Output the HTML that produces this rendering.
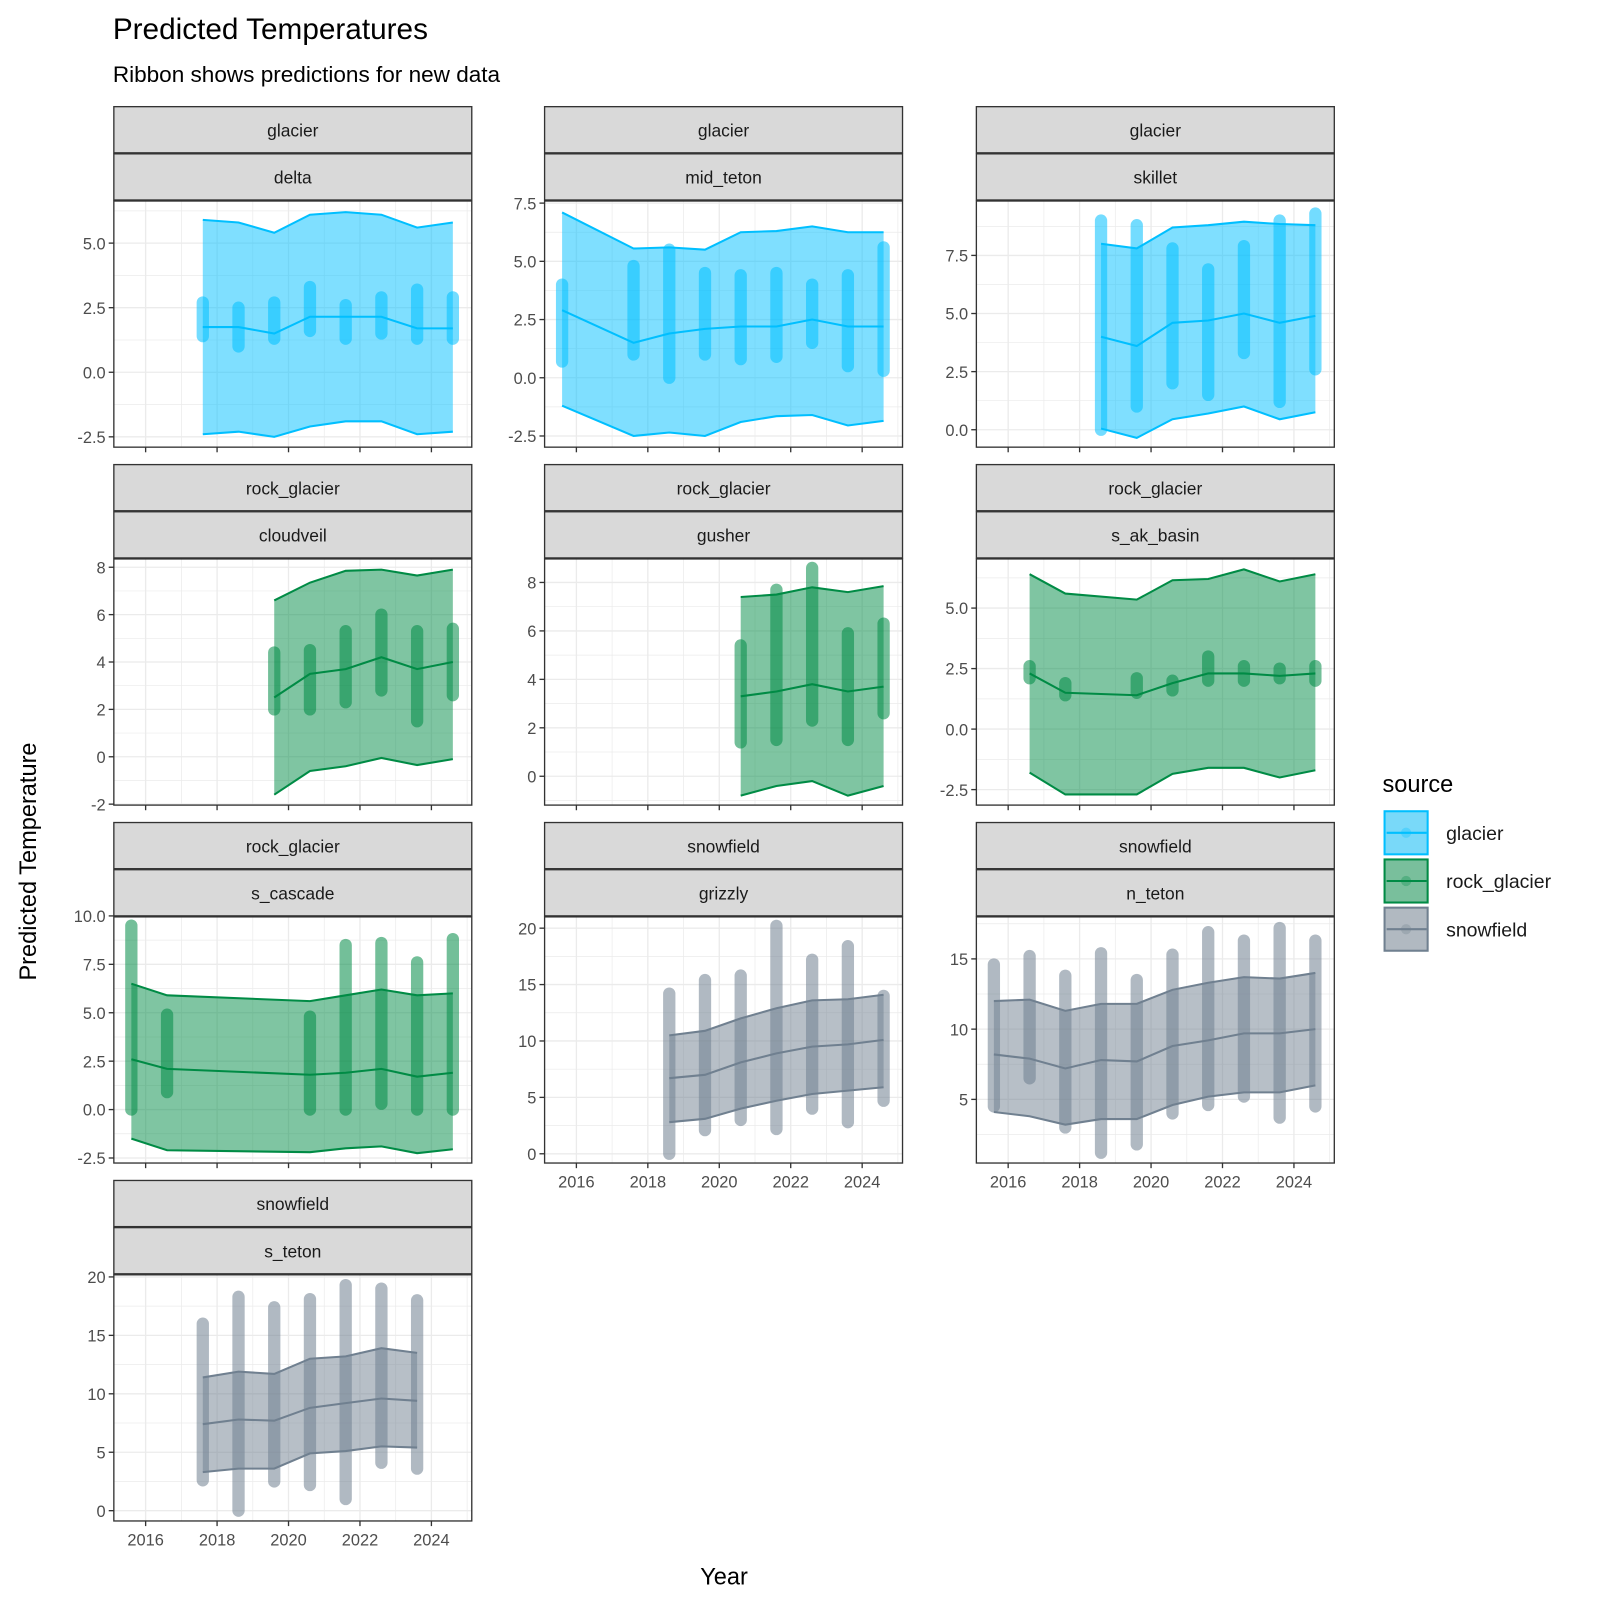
<!DOCTYPE html>
<html><head><meta charset="utf-8"><style>
body{margin:0;background:#fff;}
svg text{font-family:"Liberation Sans",Arial,sans-serif;}
</style></head><body>
<svg width="1600" height="1600" viewBox="0 0 1600 1600" xmlns="http://www.w3.org/2000/svg">
<rect width="1600" height="1600" fill="#fff"/>
<g id="chart" transform="scale(1.0256)">
<text x="110" y="38" font-size="29" fill="#000">Predicted Temperatures</text>
<text x="110" y="80" font-size="22" fill="#000">Ribbon shows predictions for new data</text>
<text x="706" y="1545" font-size="23" text-anchor="middle" fill="#000">Year</text>
<text transform="translate(35,840) rotate(-90)" font-size="23" text-anchor="middle" fill="#000">Predicted Temperature</text>
<g id="legend"></g>
</g>
</svg>
<script>
const sources = ["glacier","rock_glacier","snowfield"];
const lineColors = ["#00BFFF","#008B45","#708090"];
const fillColors = ["#00BFFF","#008B45","#708090"];
const facetNames = ["delta","mid_teton","skillet","cloudveil","gusher","s_ak_basin","s_cascade","grizzly","n_teton","s_teton"];
const facetSource = [0,0,0,1,1,1,1,2,2,2];
const facetYears = [
 [2017.6,2018.6,2019.6,2020.6,2021.6,2022.6,2023.6,2024.6],
 [2015.6,2017.6,2018.6,2019.6,2020.6,2021.6,2022.6,2023.6,2024.6],
 [2018.6,2019.6,2020.6,2021.6,2022.6,2023.6,2024.6],
 [2019.6,2020.6,2021.6,2022.6,2023.6,2024.6],
 [2020.6,2021.6,2022.6,2023.6,2024.6],
 [2016.6,2017.6,2019.6,2020.6,2021.6,2022.6,2023.6,2024.6],
 [2015.6,2016.6,2020.6,2021.6,2022.6,2023.6,2024.6],
 [2018.6,2019.6,2020.6,2021.6,2022.6,2023.6,2024.6],
 [2015.6,2016.6,2017.6,2018.6,2019.6,2020.6,2021.6,2022.6,2023.6,2024.6],
 [2017.6,2018.6,2019.6,2020.6,2021.6,2022.6,2023.6]
];
const facetUpper = [
 [5.9,5.8,5.4,6.1,6.2,6.1,5.6,5.8],
 [7.1,5.55,5.6,5.5,6.25,6.3,6.5,6.25,6.25],
 [8.0,7.8,8.7,8.8,8.95,8.85,8.8],
 [6.6,7.35,7.85,7.9,7.65,7.9],
 [7.4,7.5,7.8,7.6,7.85],
 [6.4,5.6,5.35,6.15,6.2,6.6,6.1,6.4],
 [6.5,5.9,5.6,5.9,6.2,5.9,6.0],
 [10.5,10.9,12.0,12.9,13.6,13.7,14.1],
 [12.0,12.1,11.3,11.8,11.8,12.8,13.3,13.7,13.6,14.0],
 [11.4,11.9,11.7,13.0,13.2,13.9,13.5]
];
const facetLower = [
 [-2.4,-2.3,-2.5,-2.1,-1.9,-1.9,-2.4,-2.3],
 [-1.2,-2.5,-2.35,-2.5,-1.9,-1.65,-1.6,-2.05,-1.85],
 [0.05,-0.35,0.45,0.7,1.0,0.45,0.75],
 [-1.6,-0.6,-0.4,-0.05,-0.35,-0.1],
 [-0.8,-0.4,-0.2,-0.8,-0.4],
 [-1.8,-2.7,-2.7,-1.85,-1.6,-1.6,-2.0,-1.7],
 [-1.5,-2.1,-2.2,-2.0,-1.9,-2.25,-2.05],
 [2.8,3.1,4.0,4.7,5.3,5.6,5.9],
 [4.1,3.8,3.2,3.6,3.6,4.6,5.2,5.5,5.5,6.0],
 [3.3,3.6,3.6,4.9,5.1,5.5,5.4]
];
const facetMean = [
 [1.75,1.75,1.5,2.15,2.15,2.15,1.7,1.7],
 [2.9,1.5,1.9,2.1,2.2,2.2,2.5,2.2,2.2],
 [4.0,3.6,4.6,4.7,5.0,4.6,4.9],
 [2.5,3.5,3.7,4.2,3.7,4.0],
 [3.3,3.5,3.8,3.5,3.7],
 [2.3,1.5,1.4,1.9,2.3,2.3,2.2,2.3],
 [2.6,2.1,1.8,1.9,2.1,1.7,1.9],
 [6.7,7.0,8.1,8.9,9.5,9.7,10.1],
 [8.2,7.9,7.2,7.8,7.7,8.8,9.2,9.7,9.7,10.0],
 [7.4,7.8,7.7,8.8,9.2,9.6,9.4]
];
const facetPtMin = [
 [1.4,1.0,1.3,1.6,1.3,1.5,1.3,1.3],
 [0.7,1.0,0.0,1.0,0.8,0.9,1.5,0.5,0.3],
 [0,1,2,1.5,3.3,1.2,2.6],
 [2.0,2.0,2.3,2.8,1.5,2.6],
 [1.4,1.5,2.3,1.5,2.6],
 [2.1,1.4,1.5,1.6,2.0,2.0,2.1,2.0],
 [0,0.9,0,0,0.3,0,0],
 [0,2.1,3.0,2.2,4.0,2.8,4.7],
 [4.5,6.5,3.0,1.2,1.8,4.0,4.6,5.2,3.7,4.5],
 [2.6,0,2.5,2.2,1.0,4.1,3.6]
];
const facetPtMax = [
 [2.7,2.5,2.7,3.3,2.6,2.9,3.2,2.9],
 [4.0,4.8,5.5,4.5,4.4,4.5,4.0,4.4,5.6],
 [9.0,8.8,7.8,6.9,7.9,9.0,9.3],
 [4.4,4.5,5.3,6.0,5.3,5.4],
 [5.4,7.7,8.6,5.9,6.3],
 [2.6,1.9,2.1,2.0,3.0,2.6,2.5,2.6],
 [9.5,4.9,4.8,8.5,8.6,7.6,8.8],
 [14.2,15.4,15.8,20.2,17.2,18.4,14.0],
 [14.6,15.2,13.8,15.4,13.5,15.3,16.9,16.3,17.2,16.3],
 [16.0,18.3,17.4,18.1,19.3,19.0,18.0]
];
const facetYTicks = [
 [-2.5,0,2.5,5],[-2.5,0,2.5,5,7.5],[0,2.5,5,7.5],
 [-2,0,2,4,6,8],[0,2,4,6,8],[-2.5,0,2.5,5],
 [-2.5,0,2.5,5,7.5,10],[0,5,10,15,20],[5,10,15],[0,5,10,15,20]
];
const facetYDomain = [
 [-2.9,6.63],[-2.98,7.59],[-0.75,9.84],[-2.04,8.35],[-1.19,8.97],
 [-3.14,7.03],[-2.76,9.95],[-0.82,21.0],[0.47,17.99],[-0.88,20.18]
];
const xTickYears = [2016,2018,2020,2022,2024];
const xDomain = [2015.11,2025.13];

const NS="http://www.w3.org/2000/svg";
const svg=document.getElementById('chart');
function el(tag,attrs,parent){const e=document.createElementNS(NS,tag);for(const k in attrs)e.setAttribute(k,attrs[k]);(parent||svg).appendChild(e);return e;}
const colX=[111,531,952], PW=349;
const rowTop=[104,453,802,1151];
const bottomFacet=[9,7,8];
facetNames.forEach((name,i)=>{
  const col=i%3,row=Math.floor(i/3);
  const x0=colX[col], st=rowTop[row], py0=st+92, py1=py0+240;
  const g=el('g',{});
  
  
  const sx=v=>x0+(v-xDomain[0])/(xDomain[1]-xDomain[0])*PW;
  const [d0,d1]=facetYDomain[i];
  const sy=v=>py1-(v-d0)/(d1-d0)*240;
  el('rect',{x:x0,y:py0,width:PW,height:240,fill:'#fff'},g);
  for(let yr=2015;yr<=2025;yr++){const X=sx(yr);if(X<x0||X>x0+PW)continue;
    el('line',{x1:X,x2:X,y1:py0,y2:py1,stroke:'#ebebeb','stroke-width':yr%2==0?1.3:0.7},g);}
  const tk=facetYTicks[i], step=tk[1]-tk[0];
  for(let v=tk[0]-step/2;v<=tk[tk.length-1]+step;v+=step/2){const Y=sy(v);if(Y<py0||Y>py1)continue;
    const major=tk.some(t=>Math.abs(t-v)<1e-6);
    el('line',{x1:x0,x2:x0+PW,y1:Y,y2:Y,stroke:'#ebebeb','stroke-width':major?1.3:0.7},g);}
  const s=facetSource[i], yrs=facetYears[i];
  const up=facetUpper[i], lo=facetLower[i], mn=facetMean[i];
  let pts=yrs.map((y,k)=>sx(y)+','+sy(up[k]));
  for(let k=yrs.length-1;k>=0;k--)pts.push(sx(yrs[k])+','+sy(lo[k]));
  const rib=el('polygon',{points:pts.join(' '),fill:fillColors[s],'fill-opacity':0.5},g);
  
  
  yrs.forEach((y,k)=>{
    const b=el('line',{x1:sx(y),x2:sx(y),y1:sy(facetPtMin[i][k]),y2:sy(facetPtMax[i][k]),stroke:lineColors[s],'stroke-width':12,'stroke-linecap':'round','stroke-opacity':0.55},g);
    
    
  });
  const ln=el('polyline',{points:yrs.map((y,k)=>sx(y)+','+sy(mn[k])).join(' '),fill:'none',stroke:lineColors[s],'stroke-width':2},g);
  
  
  [up,lo].forEach(arr=>{
    el('polyline',{points:yrs.map((y,k)=>sx(y)+','+sy(arr[k])).join(' '),fill:'none',stroke:lineColors[s],'stroke-width':2},g);});
  el('rect',{x:x0,y:py0,width:PW,height:240,fill:'none',stroke:'#333','stroke-width':1.3},g);
  const s1=el('rect',{x:x0,y:st,width:PW,height:45,fill:'#d9d9d9',stroke:'#333','stroke-width':1.3},g);
  
  
  el('rect',{x:x0,y:st+46,width:PW,height:45,fill:'#d9d9d9',stroke:'#333','stroke-width':1.3},g);
  const t1=el('text',{x:x0+PW/2,y:st+29,'font-size':17,'text-anchor':'middle',fill:'#1a1a1a'},g);t1.textContent=sources[s];
  const t2=el('text',{x:x0+PW/2,y:st+75,'font-size':17,'text-anchor':'middle',fill:'#1a1a1a'},g);t2.textContent=name;
  tk.forEach(v=>{const Y=sy(v);
    el('line',{x1:x0-5,x2:x0,y1:Y,y2:Y,stroke:'#333','stroke-width':1.3},g);
    const t=el('text',{x:x0-8,y:Y+6,'font-size':16,'text-anchor':'end',fill:'#4d4d4d'},g);
    t.textContent=(step%1!==0)?v.toFixed(1):String(v);});
  const showLab=bottomFacet[col]===i;
  xTickYears.forEach(yr=>{const X=sx(yr);
    el('line',{x1:X,x2:X,y1:py1,y2:py1+5,stroke:'#333','stroke-width':1.3},g);
    if(showLab){const t=el('text',{x:X,y:py1+24,'font-size':16,'text-anchor':'middle',fill:'#4d4d4d'},g);t.textContent=yr;}});
});
const lg=document.getElementById('legend');
const lt=el('text',{x:1348,y:772,'font-size':23,fill:'#000'},lg);lt.textContent='source';
sources.forEach((src,k)=>{
  const y=790+k*47;
  const item=el('g',{},lg);
  
  
  el('rect',{x:1349,y:y,width:44,height:44,fill:'#f2f2f2'},item);
  el('rect',{x:1350,y:y+1,width:42,height:42,fill:fillColors[k],'fill-opacity':0.5,stroke:lineColors[k],'stroke-width':2},item);
  el('line',{x1:1352,x2:1391,y1:y+22,y2:y+22,stroke:lineColors[k],'stroke-width':2},item);
  el('circle',{cx:1371,cy:y+22,r:5,fill:lineColors[k],'fill-opacity':0.3},item);
  const t=el('text',{x:1410,y:y+29,'font-size':19,fill:'#1a1a1a'},item);t.textContent=src;
});
</script>
</body></html>
